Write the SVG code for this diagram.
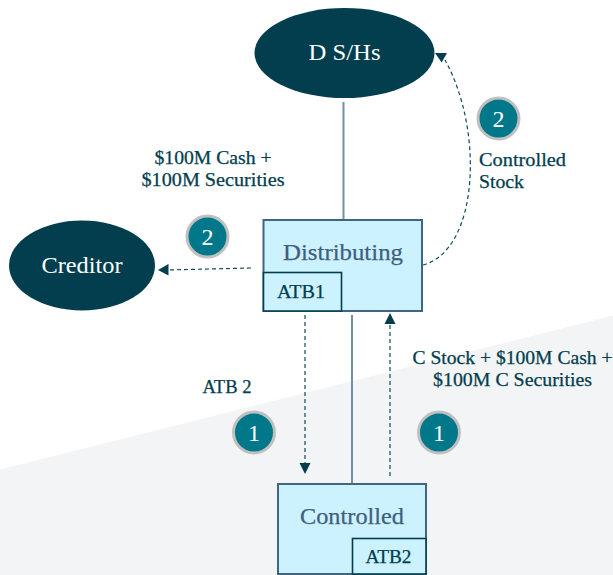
<svg xmlns="http://www.w3.org/2000/svg" width="613" height="575" viewBox="0 0 613 575">
<style>
text{font-family:"Liberation Serif","DejaVu Serif",serif;stroke-width:.25px}
.lbl{font-size:18px;fill:#033e4e;stroke:#033e4e;text-anchor:middle}
.oval{fill:#033e4e}
.ot{font-size:23px;fill:#fff;text-anchor:middle}
.box{fill:#cdf2ff;stroke:#3f6580;stroke-width:2}
.sub{fill:#cdf2ff;stroke:#033e4e;stroke-width:1.6}
.bt{font-size:24px;fill:#3f5f80;stroke:#3f5f80;text-anchor:middle}
.st{font-size:18px;fill:#033e4e;stroke:#033e4e;text-anchor:middle}
.solid{fill:none;stroke:#6f929e;stroke-width:2}
.dash{fill:none;stroke:#0f4a5a;stroke-width:1.2;stroke-dasharray:4 3}
.badge{fill:#00788a;stroke:#c0c0c0;stroke-width:3}
.bn{font-size:24px;fill:#fff;text-anchor:middle}
.head{fill:#033e4e}
</style>
<rect width="613" height="575" fill="#fff"/>
<polygon points="0,469.5 613,315.5 613,575 0,575" fill="#f3f4f6"/>
<g id="connectors">
<path class="solid" d="M343.500 102V219"/>
<path class="solid" d="M352 315V484"/>
<path class="dash" d="M251 268L167 270"/>
<polygon class="head" points="158,270 168.500,264 168.500,275.500"/>
<path class="dash" d="M305 315V464"/>
<polygon class="head" points="299.500,463 310.500,463 305,474"/>
<path class="dash" d="M390 476V323"/>
<polygon class="head" points="384.500,324 395.500,324 390,313"/>
<path class="dash" d="M423 265C479 250 484 130 445 60"/>
<polygon class="head" points="435,53 447,53 441.700,62.500"/>
</g>
<g id="node-dsh"><ellipse class="oval" cx="344.500" cy="53" rx="90" ry="45"/><text class="ot" x="344.500" y="60" textLength="72" lengthAdjust="spacingAndGlyphs">D S/Hs</text></g>
<g id="node-creditor"><ellipse class="oval" cx="82" cy="265.500" rx="73" ry="45"/><text class="ot" x="82" y="273" textLength="81" lengthAdjust="spacingAndGlyphs">Creditor</text></g>
<g id="node-distributing"><rect class="box" x="263.500" y="220" width="158.500" height="91"/><text class="bt" x="343" y="260" textLength="120" lengthAdjust="spacingAndGlyphs">Distributing</text><rect class="sub" x="263.500" y="272.500" width="78" height="38.500"/><text class="st" x="301" y="298" textLength="48" lengthAdjust="spacingAndGlyphs">ATB1</text></g>
<g id="node-controlled"><rect class="box" x="278" y="484" width="148" height="90"/><text class="bt" x="352" y="524" textLength="104" lengthAdjust="spacingAndGlyphs">Controlled</text><rect class="sub" x="352.500" y="538.500" width="73.500" height="35.500"/><text class="st" x="388.500" y="563" textLength="46" lengthAdjust="spacingAndGlyphs">ATB2</text></g>
<g id="badge-2a"><circle class="badge" cx="498.500" cy="118.500" r="20.500"/><text class="bn" x="498.500" y="126.500">2</text></g>
<g id="badge-2b"><circle class="badge" cx="207.500" cy="236.500" r="20.500"/><text class="bn" x="207.500" y="244.500">2</text></g>
<g id="badge-1a"><circle class="badge" cx="254" cy="432.500" r="20.500"/><text class="bn" x="254" y="440.500">1</text></g>
<g id="badge-1b"><circle class="badge" cx="439" cy="432.500" r="20.500"/><text class="bn" x="439" y="440.500">1</text></g>
<g id="labels">
<text class="lbl" x="213" y="163.500" textLength="117" lengthAdjust="spacingAndGlyphs">$100M Cash +</text>
<text class="lbl" x="213" y="185.500" textLength="143" lengthAdjust="spacingAndGlyphs">$100M Securities</text>
<text class="lbl" x="479" y="165.500" style="text-anchor:start" textLength="87" lengthAdjust="spacingAndGlyphs">Controlled</text>
<text class="lbl" x="479" y="187.500" style="text-anchor:start" textLength="45" lengthAdjust="spacingAndGlyphs">Stock</text>
<text class="lbl" x="227" y="392.500" textLength="49" lengthAdjust="spacingAndGlyphs">ATB 2</text>
<text class="lbl" x="512.500" y="363.500" textLength="200" lengthAdjust="spacingAndGlyphs">C Stock + $100M Cash +</text>
<text class="lbl" x="512.500" y="385.500" textLength="159" lengthAdjust="spacingAndGlyphs">$100M C Securities</text>
</g>
</svg>
